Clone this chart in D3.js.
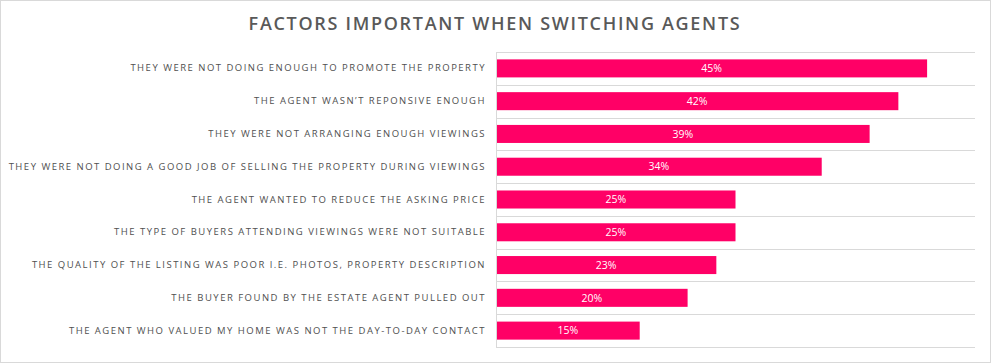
<!DOCTYPE html>
<html>
<head>
<meta charset="utf-8">
<script src="https://cdn.jsdelivr.net/npm/d3@7"></script>
<style>
  body { margin: 0; background: #fff; }
  svg { display: block; font-family: "Open Sans", sans-serif; }
</style>
</head>
<body>
<svg id="chart" width="991" height="363"></svg>
<script>
const categories = [
  'THEY WERE NOT DOING ENOUGH TO PROMOTE THE PROPERTY',
  'THE AGENT WASN\u2019T REPONSIVE ENOUGH',
  'THEY WERE NOT ARRANGING ENOUGH VIEWINGS',
  'THEY WERE NOT DOING A GOOD JOB OF SELLING THE PROPERTY DURING VIEWINGS',
  'THE AGENT WANTED TO REDUCE THE ASKING PRICE',
  'THE TYPE OF BUYERS ATTENDING VIEWINGS WERE NOT SUITABLE',
  'THE QUALITY OF THE LISTING WAS POOR I.E. PHOTOS, PROPERTY DESCRIPTION',
  'THE BUYER FOUND BY THE ESTATE AGENT PULLED OUT',
  'THE AGENT WHO VALUED MY HOME WAS NOT THE DAY-TO-DAY CONTACT'
];
const values = [45, 42, 39, 34, 25, 25, 23, 20, 15];
const title = 'FACTORS IMPORTANT WHEN SWITCHING AGENTS';

const svg = d3.select('#chart');
const W = 991, H = 363;
const margin = { top: 52, right: 16, bottom: 16, left: 496 };

// outer frame
svg.append('rect')
  .attr('x', 0.5).attr('y', 0.5)
  .attr('width', W - 1).attr('height', H - 1)
  .attr('fill', '#fff').attr('stroke', '#d9d9d9');

svg.append('text')
  .attr('x', 495).attr('y', 30)
  .attr('text-anchor', 'middle')
  .attr('fill', '#595959')
  .attr('font-size', 18)
  .attr('font-weight', 600)
  .attr('letter-spacing', 1.7)
  .text(title);

const x = d3.scaleLinear().domain([0, 50]).range([margin.left, W - margin.right]);
const y = d3.scaleBand().domain(categories).range([margin.top, H - margin.bottom]).paddingInner(0.45).paddingOuter(0.225);

// gridlines between categories
const edges = d3.range(categories.length + 1).map(i => margin.top + i * y.step());
svg.append('g').selectAll('line').data(edges).join('line')
  .attr('x1', margin.left).attr('x2', x(50))
  .attr('y1', d => Math.round(d) + 0.5).attr('y2', d => Math.round(d) + 0.5)
  .attr('stroke', '#d9d9d9');

svg.append('line')
  .attr('x1', margin.left + 0.5).attr('x2', margin.left + 0.5)
  .attr('y1', margin.top).attr('y2', H - margin.bottom)
  .attr('stroke', '#d9d9d9');

svg.append('g').selectAll('rect').data(values).join('rect')
  .attr('x', x(0) + 1)
  .attr('y', (d, i) => y(categories[i]))
  .attr('width', d => x(d) - x(0) - 1)
  .attr('height', y.bandwidth())
  .attr('fill', '#ff0066');

svg.append('g').selectAll('text').data(values).join('text')
  .attr('x', d => (x(0) + x(d)) / 2)
  .attr('y', (d, i) => y(categories[i]) + y.bandwidth() / 2)
  .attr('dy', '0.35em')
  .attr('text-anchor', 'middle')
  .attr('fill', '#fff')
  .attr('font-size', 10.5)
  .text(d => d + '%');

const yAxis = d3.axisLeft(y).tickSize(0).tickPadding(10);
const ga = svg.append('g').attr('transform', `translate(${margin.left},0)`).call(yAxis);
ga.select('.domain').remove();
ga.selectAll('text')
  .attr('fill', '#505050')
  .attr('font-size', 9.5)
  .attr('letter-spacing', 1.49)
  .attr('font-family', '"Open Sans", sans-serif');
</script>
</body>
</html>
